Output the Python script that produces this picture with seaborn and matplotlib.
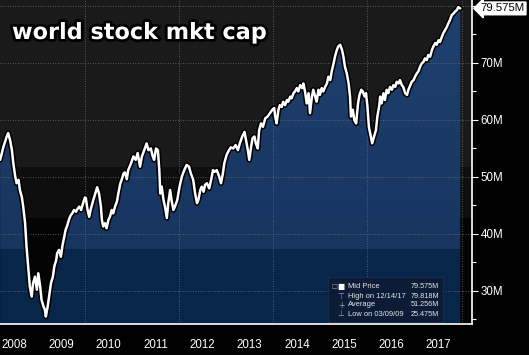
import numpy as np
import pandas as pd
import matplotlib
matplotlib.use('Agg')
import matplotlib.pyplot as plt
import matplotlib.patheffects as pe
from matplotlib.patches import Rectangle
from matplotlib.transforms import blended_transform_factory
import seaborn as sns

# world stock market cap (decimal year, value in M)
years = [
    2008.20, 2008.27, 2008.34, 2008.37, 2008.41, 2008.45, 2008.48, 2008.52, 2008.55, 2008.59,
    2008.62, 2008.66, 2008.69, 2008.73, 2008.76, 2008.80, 2008.83, 2008.87, 2008.90, 2008.94,
    2008.98, 2009.01, 2009.05, 2009.08, 2009.12, 2009.15, 2009.17, 2009.21, 2009.24, 2009.28,
    2009.32, 2009.35, 2009.39, 2009.41, 2009.45, 2009.49, 2009.52, 2009.56, 2009.59, 2009.63,
    2009.66, 2009.70, 2009.73, 2009.77, 2009.81, 2009.85, 2009.88, 2009.92, 2009.95, 2010.00,
    2010.02, 2010.05, 2010.09, 2010.12, 2010.17, 2010.22, 2010.26, 2010.30, 2010.34, 2010.36,
    2010.39, 2010.43, 2010.46, 2010.50, 2010.53, 2010.57, 2010.60, 2010.64, 2010.68, 2010.71,
    2010.75, 2010.78, 2010.82, 2010.85, 2010.89, 2010.92, 2010.98, 2011.03, 2011.08, 2011.12,
    2011.17, 2011.21, 2011.26, 2011.31, 2011.35, 2011.40, 2011.44, 2011.47, 2011.51, 2011.55,
    2011.58, 2011.60, 2011.63, 2011.67, 2011.70, 2011.74, 2011.77, 2011.81, 2011.84, 2011.88,
    2011.91, 2011.96, 2012.01, 2012.06, 2012.11, 2012.16, 2012.21, 2012.25, 2012.30, 2012.34,
    2012.38, 2012.41, 2012.45, 2012.48, 2012.52, 2012.55, 2012.59, 2012.64, 2012.68, 2012.72,
    2012.75, 2012.80, 2012.85, 2012.89, 2012.93, 2012.96, 2013.01, 2013.06, 2013.10, 2013.15,
    2013.20, 2013.25, 2013.29, 2013.34, 2013.39, 2013.42, 2013.46, 2013.49, 2013.53, 2013.56,
    2013.60, 2013.63, 2013.67, 2013.70, 2013.74, 2013.78, 2013.83, 2013.88, 2013.93, 2013.98,
    2014.02, 2014.04, 2014.07, 2014.11, 2014.14, 2014.18, 2014.21, 2014.25, 2014.29, 2014.32,
    2014.36, 2014.39, 2014.43, 2014.46, 2014.50, 2014.53, 2014.57, 2014.61, 2014.64, 2014.68,
    2014.71, 2014.75, 2014.78, 2014.82, 2014.85, 2014.89, 2014.92, 2014.96, 2014.99, 2015.03,
    2015.06, 2015.10, 2015.14, 2015.17, 2015.21, 2015.24, 2015.28, 2015.31, 2015.35, 2015.38,
    2015.42, 2015.46, 2015.49, 2015.52, 2015.56, 2015.60, 2015.63, 2015.65, 2015.69, 2015.72,
    2015.76, 2015.80, 2015.83, 2015.87, 2015.90, 2015.94, 2015.97, 2016.00, 2016.03, 2016.07,
    2016.10, 2016.14, 2016.18, 2016.21, 2016.25, 2016.27, 2016.30, 2016.34, 2016.37, 2016.41,
    2016.44, 2016.48, 2016.52, 2016.55, 2016.59, 2016.62, 2016.66, 2016.69, 2016.73, 2016.76,
    2016.80, 2016.84, 2016.87, 2016.91, 2016.94, 2016.98, 2017.01, 2017.05, 2017.08, 2017.12,
    2017.15, 2017.19, 2017.22, 2017.26, 2017.29, 2017.33, 2017.37, 2017.40, 2017.44, 2017.47,
    2017.51, 2017.54, 2017.58, 2017.61, 2017.65, 2017.69, 2017.72, 2017.75, 2017.79, 2017.83,
    2017.86, 2017.90, 2017.93, 2017.97,
]
mkt_cap = [
    53.0, 55.3, 57.1, 57.7, 56.5, 54.7, 52.4, 50.1, 48.9, 49.5,
    47.7, 46.5, 44.8, 41.9, 37.8, 33.7, 30.8, 29.0, 31.4, 32.5,
    30.2, 33.1, 30.8, 28.4, 27.3, 26.7, 25.5, 27.3, 29.0, 31.4,
    32.5, 34.3, 35.4, 36.6, 37.2, 36.0, 37.8, 39.5, 40.7, 41.6,
    42.5, 43.3, 43.6, 44.2, 43.9, 44.5, 44.8, 44.2, 45.1, 46.4,
    46.3, 44.5, 43.0, 44.2, 45.7, 47.1, 48.2, 47.1, 44.8, 42.5,
    41.3, 41.9, 41.0, 42.5, 43.0, 44.2, 43.6, 44.8, 45.7, 47.1,
    48.8, 49.5, 50.6, 50.8, 49.6, 51.2, 52.4, 53.6, 53.0, 54.2,
    51.8, 53.6, 54.7, 55.9, 54.7, 55.0, 53.6, 53.0, 55.0, 54.7,
    51.2, 47.1, 48.3, 45.9, 44.8, 42.8, 45.4, 47.7, 45.9, 44.2,
    44.8, 45.9, 48.3, 50.1, 51.2, 52.1, 51.8, 50.6, 49.5, 47.1,
    45.4, 46.0, 47.7, 48.3, 47.4, 48.6, 48.9, 48.0, 49.5, 51.2,
    50.9, 51.2, 50.1, 48.9, 50.6, 52.4, 53.9, 54.7, 55.2, 55.0,
    55.6, 54.7, 55.9, 57.1, 57.9, 56.5, 54.7, 53.0, 55.3, 56.8,
    57.1, 55.9, 55.0, 58.2, 59.4, 58.8, 60.3, 60.6, 61.2, 61.8,
    62.1, 60.6, 59.4, 61.8, 62.6, 62.3, 63.2, 62.6, 63.5, 63.2,
    64.1, 63.8, 64.7, 65.0, 65.6, 65.0, 66.1, 65.6, 66.4, 64.7,
    62.9, 64.7, 61.2, 64.1, 65.3, 64.1, 63.2, 65.3, 64.4, 65.6,
    65.0, 65.8, 66.4, 67.6, 67.0, 68.5, 69.9, 71.1, 72.3, 72.9,
    73.2, 72.3, 71.1, 69.4, 68.2, 66.4, 64.1, 60.6, 61.8, 60.0,
    59.4, 62.9, 64.4, 65.3, 65.0, 64.1, 64.7, 62.3, 58.8, 57.1,
    55.9, 57.1, 58.2, 60.6, 62.5, 64.1, 62.9, 64.7, 63.5, 65.3,
    64.7, 65.8, 65.3, 66.1, 65.8, 66.7, 66.4, 67.0, 66.1, 65.8,
    64.7, 64.4, 65.3, 66.1, 66.7, 67.0, 67.6, 68.2, 68.5, 69.4,
    69.9, 70.2, 70.8, 70.5, 71.4, 71.1, 72.3, 72.9, 73.5, 73.2,
    74.0, 73.7, 74.6, 75.2, 75.8, 76.4, 77.0, 77.5, 78.4, 78.7,
    79.0, 79.3, 79.8, 79.575,
]
year_labels = ['2008', '2009', '2010', '2011', '2012', '2013', '2014', '2015', '2016', '2017']
ytick_vals = [30, 40, 50, 60, 70, 80]
ytick_labels = ['30M', '40M', '50M', '60M', '70M', '']
last_price = '79.575M'
legend_names = ['Mid Price', 'High on 12/14/17', 'Average', 'Low on 03/09/09']
legend_values = ['79.575M', '79.818M', '51.256M', '25.475M']
legend_icons = ['\u25A0', '\u22A4', '+', '\u22A5']

df = pd.DataFrame({'year': years, 'cap': mkt_cap})

sns.set_style('dark')
plt.rcParams['font.family'] = ['Liberation Sans', 'DejaVu Sans']

W, H = 529, 355
fig = plt.figure(figsize=(W / 100, H / 100), dpi=100, facecolor='black')
ax = fig.add_axes([0, 31 / H, 472 / W, 324 / H])

x0, x1 = 2008.197, 2018.22
y0, y1 = 24.2, 81.05
ax.set_facecolor('#040404')
# banded background behind the area
ax.axhspan(51.75, y1, color='#1a1a1a', lw=0, zorder=0)
ax.axhspan(42.8, 51.75, color='#0e0e0e', lw=0, zorder=0)

# area fill: blue bands clipped to the area under the line
poly = ax.fill_between(df['year'], df['cap'], y0, color='none', lw=0)
rows = np.linspace(y1, y0, 400)
top_c = np.array([0x1f, 0x40, 0x70]) / 255
mid_c = np.array([0x17, 0x35, 0x5f]) / 255
low_c = np.array([0x08, 0x26, 0x4a]) / 255
grad = np.array([top_c + (mid_c - top_c) * (y1 - v) / (y1 - 37.2) if v > 37.2 else low_c for v in rows])
img = ax.imshow(grad[:, None, :].repeat(2, axis=1), extent=[x0, x1, y0, y1], aspect='auto',
                origin='upper', zorder=1, interpolation='nearest')
img.set_clip_path(poly.get_paths()[0], transform=ax.transData)

# dotted grid
for yv in ytick_vals:
    ax.axhline(yv, color='#707070', lw=0.6, ls=(0, (1, 2)), zorder=2)
for xv in [2010, 2012, 2014, 2016, 2018]:
    ax.axvline(xv, color='#707070', lw=0.6, ls=(0, (1, 2)), zorder=2)

sns.lineplot(data=df, x='year', y='cap', color='white', lw=1.8, ax=ax, zorder=4)
ax.lines[-1].set_path_effects([pe.Stroke(linewidth=4, foreground='black'), pe.Normal()])

ax.set_xlim(x0, x1)
ax.set_ylim(y0, y1)
ax.set_xlabel('')
ax.set_ylabel('')
ax.grid(False)

for s in ['top', 'left']:
    ax.spines[s].set_visible(False)
for s in ['right', 'bottom']:
    ax.spines[s].set_color('white')
    ax.spines[s].set_linewidth(1.2)

# x axis: separators at year boundaries, labels mid-year
ax.set_xticks(np.arange(2009, 2019))
ax.set_xticklabels([''] * 10)
ax.set_xticks(np.arange(2008.5, 2018, 1.0), minor=True)
ax.set_xticklabels(year_labels, minor=True)
ax.tick_params(axis='x', which='major', length=23, width=0.8, color='white', direction='out')
ax.tick_params(axis='x', which='minor', length=0, pad=11, labelsize=8.3, labelcolor='white')

# y axis on the right
ax.yaxis.tick_right()
ax.set_yticks(ytick_vals)
ax.set_yticklabels(ytick_labels)
ax.set_yticks(np.arange(25, 80, 10), minor=True)
ax.tick_params(axis='y', which='major', length=4, width=0.8, colors='white', pad=2, labelsize=8.3)
ax.tick_params(axis='y', which='minor', length=3, width=0.8, colors='white')

# last price tag
tr = blended_transform_factory(ax.transAxes, ax.transData)
ax.text(1.018, mkt_cap[-1], last_price, transform=tr, ha='left', va='center', fontsize=8.2,
        color='black', zorder=6, clip_on=False,
        bbox=dict(boxstyle='larrow,pad=0.12', fc='white', ec='white'))

# title
fig.text(12 / W, 1 - 39 / H, 'world stock mkt cap', family='DejaVu Sans', weight='bold',
         fontsize=16.1, color='white', va='baseline', ha='left',
         path_effects=[pe.Stroke(linewidth=4, foreground='black'), pe.Normal()])

# legend box
fig.patches.append(Rectangle((328 / W, 1 - 322 / H), 115 / W, 45 / H, transform=fig.transFigure,
                             fc='#0c1c36', ec='#1c2e4c', lw=0.6, zorder=5))
row_y = [287, 296, 305, 314]
for i in range(4):
    yy = 1 - row_y[i] / H
    icon_col = 'white' if i == 0 else '#9aa4b4'
    fig.text(341 / W, yy, legend_icons[i], color=icon_col, fontsize=5.5, ha='center', va='center',
             family=['DejaVu Sans'], zorder=6)
    fig.text(348 / W, yy, legend_names[i], color='#e6e6e6', fontsize=5.4, ha='left', va='center', zorder=6)
    fig.text(439 / W, yy, legend_values[i], color='#e6e6e6', fontsize=5.2, ha='right', va='center', zorder=6)
fig.text(334 / W, 1 - 287 / H, '\u25A1', color='#9aa4b4', fontsize=4.5, ha='center', va='center',
         family=['DejaVu Sans'], zorder=6)

fig.savefig('out.png', dpi=100, facecolor='black')
